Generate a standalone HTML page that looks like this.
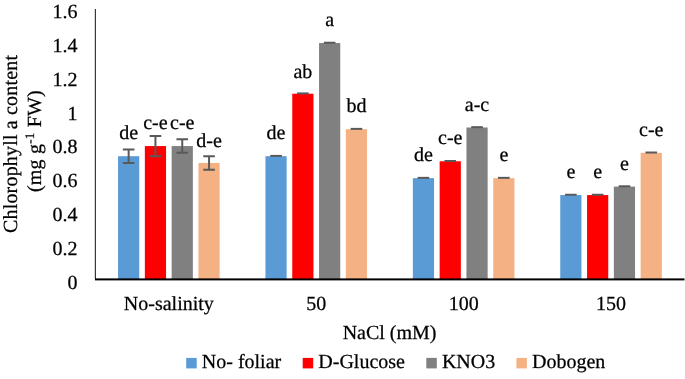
<!DOCTYPE html>
<html><head><meta charset="utf-8">
<style>
html,body{margin:0;padding:0;background:#fff;}
body{width:685px;height:379px;overflow:hidden;}
svg{display:block;will-change:transform;}
text{font-family:"Liberation Serif",serif;font-size:20px;fill:#000;stroke:#000;stroke-width:0.25px;text-rendering:geometricPrecision;}
</style></head>
<body>
<svg width="685" height="379" viewBox="0 0 685 379">
<rect width="685" height="379" fill="#fff"/>
<rect x="118.05" y="156.20" width="21.20" height="123.30" fill="#5B9BD5"/>
<rect x="144.85" y="146.07" width="21.20" height="133.43" fill="#FF0000"/>
<rect x="171.65" y="146.07" width="21.20" height="133.43" fill="#808080"/>
<rect x="198.45" y="162.96" width="21.20" height="116.54" fill="#F4B183"/>
<path d="M128.65 149.45V162.96M122.85 149.45H134.45M122.85 162.96H134.45" stroke="#595959" stroke-width="2.0" fill="none"/>
<text x="128.65" y="138.80" text-anchor="middle">de</text>
<path d="M155.45 135.93V156.20M149.65 135.93H161.25M149.65 156.20H161.25" stroke="#595959" stroke-width="2.0" fill="none"/>
<text x="155.45" y="129.27" text-anchor="middle">c-e</text>
<path d="M182.25 139.31V152.82M176.45 139.31H188.05M176.45 152.82H188.05" stroke="#595959" stroke-width="2.0" fill="none"/>
<text x="182.25" y="129.27" text-anchor="middle">c-e</text>
<path d="M209.05 156.20V169.72M203.25 156.20H214.85M203.25 169.72H214.85" stroke="#595959" stroke-width="2.0" fill="none"/>
<text x="209.05" y="146.86" text-anchor="middle">d-e</text>
<text x="168.85" y="310" text-anchor="middle">No-salinity</text>
<rect x="265.45" y="156.20" width="21.20" height="123.30" fill="#5B9BD5"/>
<rect x="292.25" y="93.71" width="21.20" height="185.79" fill="#FF0000"/>
<rect x="319.05" y="43.04" width="21.20" height="236.46" fill="#808080"/>
<rect x="345.85" y="129.18" width="21.20" height="150.32" fill="#F4B183"/>
<path d="M270.25 155.90H281.85" stroke="#595959" stroke-width="2.0" fill="none"/>
<text x="276.05" y="138.80" text-anchor="middle">de</text>
<path d="M297.05 93.41H308.65" stroke="#595959" stroke-width="2.0" fill="none"/>
<text x="302.85" y="77.51" text-anchor="middle">ab</text>
<path d="M323.85 42.74H335.45" stroke="#595959" stroke-width="2.0" fill="none"/>
<text x="329.65" y="26.24" text-anchor="middle">a</text>
<path d="M350.65 128.88H362.25" stroke="#595959" stroke-width="2.0" fill="none"/>
<text x="356.45" y="111.98" text-anchor="middle">bd</text>
<text x="316.25" y="310" text-anchor="middle">50</text>
<rect x="412.85" y="178.16" width="21.20" height="101.34" fill="#5B9BD5"/>
<rect x="439.65" y="161.27" width="21.20" height="118.23" fill="#FF0000"/>
<rect x="466.45" y="127.49" width="21.20" height="152.01" fill="#808080"/>
<rect x="493.25" y="178.16" width="21.20" height="101.34" fill="#F4B183"/>
<path d="M417.65 177.86H429.25" stroke="#595959" stroke-width="2.0" fill="none"/>
<text x="423.45" y="160.76" text-anchor="middle">de</text>
<path d="M444.45 160.97H456.05" stroke="#595959" stroke-width="2.0" fill="none"/>
<text x="450.25" y="144.47" text-anchor="middle">c-e</text>
<path d="M471.25 127.19H482.85" stroke="#595959" stroke-width="2.0" fill="none"/>
<text x="477.05" y="110.69" text-anchor="middle">a-c</text>
<path d="M498.05 177.86H509.65" stroke="#595959" stroke-width="2.0" fill="none"/>
<text x="503.85" y="161.36" text-anchor="middle">e</text>
<text x="463.65" y="310" text-anchor="middle">100</text>
<rect x="560.25" y="195.05" width="21.20" height="84.45" fill="#5B9BD5"/>
<rect x="587.05" y="195.05" width="21.20" height="84.45" fill="#FF0000"/>
<rect x="613.85" y="186.60" width="21.20" height="92.90" fill="#808080"/>
<rect x="640.65" y="152.82" width="21.20" height="126.68" fill="#F4B183"/>
<path d="M565.05 194.75H576.65" stroke="#595959" stroke-width="2.0" fill="none"/>
<text x="570.85" y="178.25" text-anchor="middle">e</text>
<path d="M591.85 194.75H603.45" stroke="#595959" stroke-width="2.0" fill="none"/>
<text x="597.65" y="178.25" text-anchor="middle">e</text>
<path d="M618.65 186.30H630.25" stroke="#595959" stroke-width="2.0" fill="none"/>
<text x="624.45" y="169.80" text-anchor="middle">e</text>
<path d="M645.45 152.52H657.05" stroke="#595959" stroke-width="2.0" fill="none"/>
<text x="651.25" y="136.02" text-anchor="middle">c-e</text>
<text x="611.05" y="310" text-anchor="middle">150</text>
<text x="77.6" y="288.50" text-anchor="end">0</text>
<text x="77.6" y="254.72" text-anchor="end">0.2</text>
<text x="77.6" y="220.94" text-anchor="end">0.4</text>
<text x="77.6" y="187.16" text-anchor="end">0.6</text>
<text x="77.6" y="153.38" text-anchor="end">0.8</text>
<text x="77.6" y="119.60" text-anchor="end">1</text>
<text x="77.6" y="85.82" text-anchor="end">1.2</text>
<text x="77.6" y="52.04" text-anchor="end">1.4</text>
<text x="77.6" y="18.26" text-anchor="end">1.6</text>
<rect x="94" y="9" width="1" height="270" fill="#d8d8d8"/><rect x="95" y="9" width="1" height="270" fill="#383838"/>
<rect x="95" y="278.4" width="589.5" height="2" fill="#000"/>
<text transform="translate(17.4,233) rotate(-90)" letter-spacing="0.18">Chlorophyll a content</text>
<text transform="translate(40.5,192) rotate(-90)" letter-spacing="0.2">(mg g<tspan font-size="13" dy="-6.4">-1</tspan><tspan dy="6.4"> FW)</tspan></text>
<text x="389.6" y="339.2" text-anchor="middle">NaCl (mM)</text>
<rect x="186.20" y="357.9" width="10.5" height="10.5" fill="#5B9BD5"/>
<text x="201.80" y="368.4">No- foliar</text>
<rect x="302.70" y="357.9" width="10.5" height="10.5" fill="#FF0000"/>
<text x="318.30" y="368.4">D-Glucose</text>
<rect x="426.30" y="357.9" width="10.5" height="10.5" fill="#808080"/>
<text x="441.90" y="368.4">KNO3</text>
<rect x="516.40" y="357.9" width="10.5" height="10.5" fill="#F4B183"/>
<text x="532.00" y="368.4">Dobogen</text>
</svg>
</body></html>
